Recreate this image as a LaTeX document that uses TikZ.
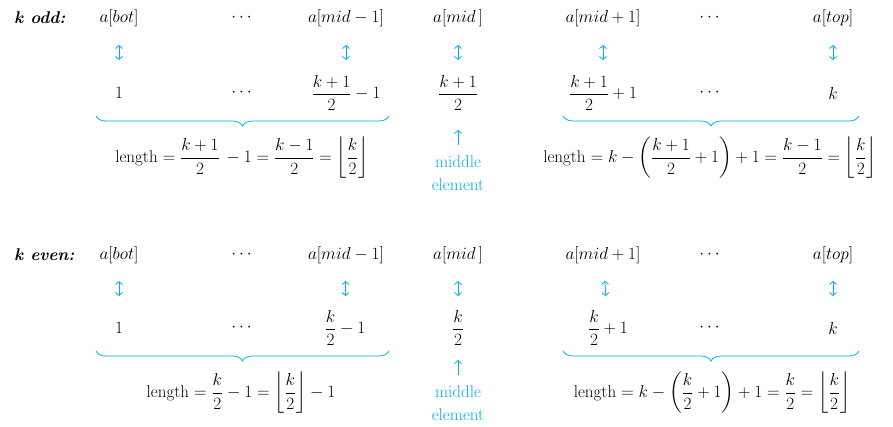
\documentclass[tikz,border=0pt]{standalone}
\usepackage{amsmath}
\usepackage{tikz}
\usetikzlibrary{arrows.meta, decorations.pathreplacing}
\definecolor{linkblue}{RGB}{0,174,239}

\begin{document}
\begin{tikzpicture}[
    x=1pt, y=-1pt,
    every node/.style={inner sep=0pt, font=\fontsize{17}{23}\selectfont},
    head/.style={anchor=west, font=\fontsize{17}{23}\selectfont\bfseries\itshape},
    link/.style={{Straight Barb[length=3pt,width=7pt]}-{Straight Barb[length=3pt,width=7pt]}, draw=linkblue, line width=0.8pt},
    ptr/.style={-{Straight Barb[length=3pt,width=7pt]}, draw=linkblue, line width=0.8pt},
    brc/.style={decorate, decoration={brace, mirror, amplitude=10pt}, draw=linkblue, line width=0.8pt},
    note/.style={text=linkblue, align=center}
  ]
  \useasboundingbox (0,0) rectangle (893,426);

  % k odd
  \node[head] (ohead) at (14,18) {k odd:};
  \node (obot) at (119,18) {$a[bot]$};
  \node (odots) at (243,18) {$\cdots$};
  \node (omidm) at (346,18) {$a[mid-1]$};
  \node (omid) at (458,18) {$a[mid\,]$};
  \node (omidp) at (603,18) {$a[mid+1]$};
  \node (odotsr) at (711,18) {$\cdots$};
  \node (otop) at (833,18) {$a[top]$};

  \node (ov1) at (119,93) {$1$};
  \node (ovd) at (243,93) {$\cdots$};
  \node (ovm) at (346,93) {$\dfrac{k+1}{2}-1$};
  \node (ovmid) at (458,93) {$\dfrac{k+1}{2}$};
  \node (ovp) at (603,93) {$\dfrac{k+1}{2}+1$};
  \node (ovdr) at (711,93) {$\cdots$};
  \node (ovk) at (833,93) {$k$};

  \draw[link, shorten <=27pt, shorten >=33pt] (obot.center) -- (ov1.center);
  \draw[link, shorten <=27pt, shorten >=33pt] (omidm.center) -- (ovm.center);
  \draw[link, shorten <=27pt, shorten >=33pt] (omid.center) -- (ovmid.center);
  \draw[link, shorten <=27pt, shorten >=33pt] (omidp.center) -- (ovp.center);
  \draw[link, shorten <=27pt, shorten >=33pt] (otop.center) -- (ovk.center);

  \draw[brc] (96,116) -- (389,116);
  \draw[brc] (563,116) -- (859,116);

  \node (olenl) at (242,158) {length $=\dfrac{k+1}{2}\,-1=\dfrac{k-1}{2}=\left\lfloor\dfrac{k}{2}\right\rfloor$};
  \node (olenr) at (710,158) {length $=k-\left(\dfrac{k+1}{2}+1\right)+1=\dfrac{k-1}{2}=\left\lfloor\dfrac{k}{2}\right\rfloor$};

  \node[note] (onote) at (458,173.5) {middle\\element};
  \draw[ptr, shorten <=28.5pt, shorten >=37pt] (onote.center) -- (ovmid.center);

  % k even
  \node[head] (ehead) at (14,255) {k even:};
  \node (ebot) at (119,255) {$a[bot]$};
  \node (edots) at (243,255) {$\cdots$};
  \node (emidm) at (346,255) {$a[mid-1]$};
  \node (emid) at (458,255) {$a[mid\,]$};
  \node (emidp) at (603,255) {$a[mid+1]$};
  \node (edotsr) at (711,255) {$\cdots$};
  \node (etop) at (833,255) {$a[top]$};

  \node (ev1) at (119,328) {$1$};
  \node (evd) at (243,328) {$\cdots$};
  \node (evm) at (345,328) {$\dfrac{k}{2}-1$};
  \node (evmid) at (458,328) {$\dfrac{k}{2}$};
  \node (evp) at (608,328) {$\dfrac{k}{2}+1$};
  \node (evdr) at (711,328) {$\cdots$};
  \node (evk) at (833,328) {$k$};

  \draw[link, shorten <=26pt, shorten >=32pt] (ebot.center) -- (ev1.center);
  \draw[link, shorten <=26pt, shorten >=32pt] (emidm.center) -- (evm.center);
  \draw[link, shorten <=26pt, shorten >=32pt] (emid.center) -- (evmid.center);
  \draw[link, shorten <=26pt, shorten >=32pt] (emidp.center) -- (evp.center);
  \draw[link, shorten <=26pt, shorten >=32pt] (etop.center) -- (evk.center);

  \draw[brc] (96,351) -- (389,351);
  \draw[brc] (563,351) -- (859,351);

  \node (elenl) at (241,393) {length $=\dfrac{k}{2}-1=\left\lfloor\dfrac{k}{2}\right\rfloor-1$};
  \node (elenr) at (712,393) {length $=k-\left(\dfrac{k}{2}+1\right)+1=\dfrac{k}{2}=\left\lfloor\dfrac{k}{2}\right\rfloor$};

  \node[note] (enote) at (458,403.5) {middle\\element};
  \draw[ptr, shorten <=28.5pt, shorten >=32pt] (enote.center) -- (evmid.center);
\end{tikzpicture}
\end{document}
